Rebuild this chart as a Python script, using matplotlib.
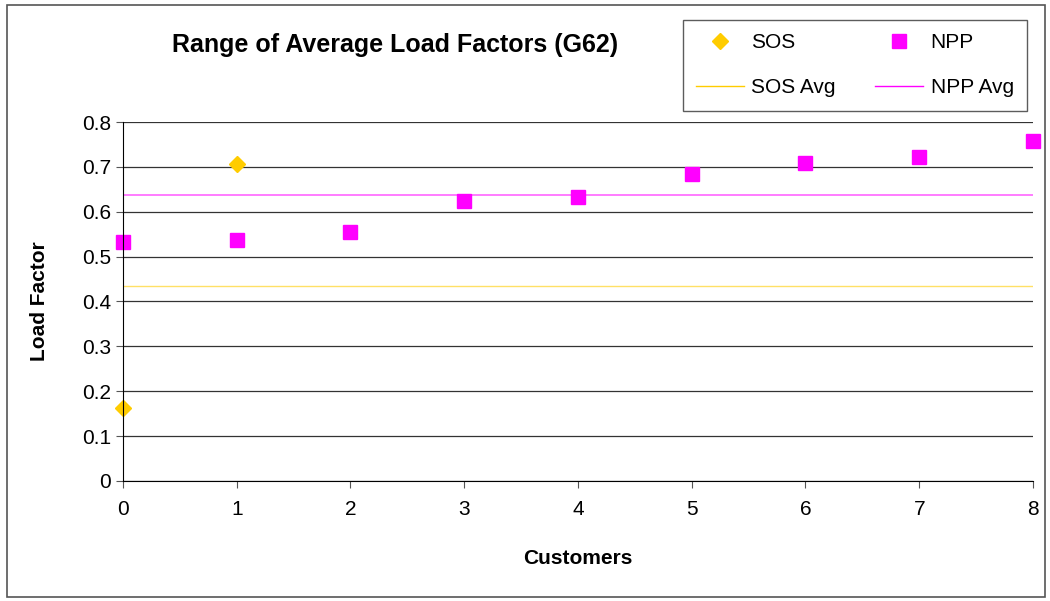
import matplotlib.pyplot as plt
from matplotlib.patches import Rectangle
from matplotlib.lines import Line2D

plt.rcParams['font.family'] = ['Liberation Sans', 'DejaVu Sans']

sos_x = [0, 1]
sos_y = [0.163, 0.706]
npp_x = [0, 1, 2, 3, 4, 5, 6, 7, 8]
npp_y = [0.532, 0.537, 0.555, 0.624, 0.633, 0.684, 0.708, 0.722, 0.757]
sos_avg = 0.434
npp_avg = 0.637

fig = plt.figure(figsize=(10.5, 6.01), dpi=100)
fig.patches.append(Rectangle((0.007, 0.006), 0.988, 0.985, transform=fig.transFigure,
                             fill=False, edgecolor='#555555', lw=1.2))
ax = fig.add_axes([0.1171, 0.1997, 0.8667, 0.5973])

ax.axhline(sos_avg, color='#FFCC00', lw=1, alpha=0.6)
ax.axhline(npp_avg, color='#FF00FF', lw=1.2, alpha=0.6)
ax.plot(sos_x, sos_y, linestyle='none', marker='D', markersize=8, color='#FFCC00', clip_on=False)
ax.plot(npp_x, npp_y, linestyle='none', marker='s', markersize=9.5, color='#FF00FF', clip_on=False)

ax.set_xlim(0, 8)
ax.set_ylim(0, 0.8)
ax.set_xticks(range(9))
ax.set_yticks([0, 0.1, 0.2, 0.3, 0.4, 0.5, 0.6, 0.7, 0.8])
ax.set_yticklabels(['0', '0.1', '0.2', '0.3', '0.4', '0.5', '0.6', '0.7', '0.8'])
ax.yaxis.grid(True, color='#333333', lw=0.9)
ax.set_axisbelow(True)
for s in ['top', 'right']:
    ax.spines[s].set_visible(False)
ax.spines['left'].set_color('black')
ax.spines['bottom'].set_color('black')
ax.tick_params(axis='both', labelsize=15, direction='out', length=5, color='#555555')
ax.tick_params(axis='x', pad=9)

ax.set_xlabel('Customers', fontsize=15, fontweight='bold', labelpad=21)
ax.set_ylabel('Load Factor', fontsize=15, fontweight='bold', labelpad=24)
fig.text(0.376, 0.925, 'Range of Average Load Factors (G62)', fontsize=18,
         fontweight='bold', ha='center', va='center')

handles = [
    Line2D([], [], linestyle='none', marker='D', markersize=8, color='#FFCC00'),
    Line2D([], [], color='#FFCC00', lw=1),
    Line2D([], [], linestyle='none', marker='s', markersize=9.5, color='#FF00FF'),
    Line2D([], [], color='#FF00FF', lw=1),
]
labels = ['SOS', 'SOS Avg', 'NPP', 'NPP Avg']
leg = fig.legend(handles, labels, ncol=2, loc='upper left', bbox_to_anchor=(0.65, 0.967),
                 fontsize=15, frameon=True, fancybox=False, edgecolor='#333333',
                 handlelength=2.3, handletextpad=0.35, columnspacing=1.9,
                 labelspacing=1.25, borderpad=0.65, borderaxespad=0)
leg.get_frame().set_linewidth(1)

fig.savefig('out.png', dpi=100)
